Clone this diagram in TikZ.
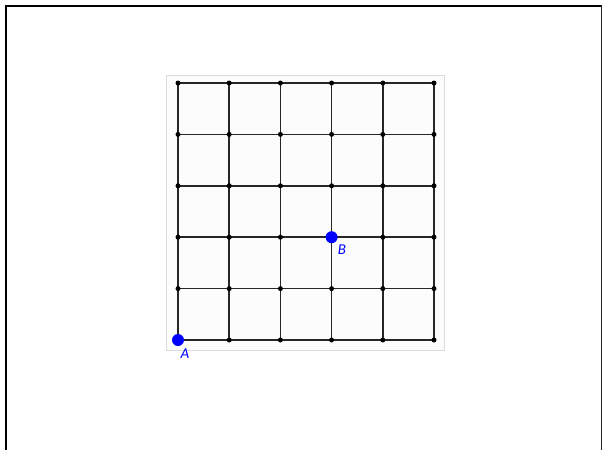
\documentclass[tikz,border=0pt]{standalone}
\usepackage{fontspec}
\setmainfont{Carlito}
\begin{document}
\begin{tikzpicture}[x=1pt,y=-1pt,
  gridline/.style={draw=black!85,line width=1.6pt},
  gdot/.style={circle,fill=black,inner sep=0pt,minimum size=5pt},
  bdot/.style={circle,fill=blue,inner sep=0pt,minimum size=12pt},
  lbl/.style={text=blue,font=\itshape\fontsize{15}{16}\selectfont,inner sep=0pt}]
\useasboundingbox (0,0) rectangle (603,450);
\fill[white] (0,0) rectangle (603,450);
% frame
\draw[black,line width=2.4pt] (6,450) -- (6,6) -- (601.5,6);
\draw[black!85,line width=1.6pt] (601.5,6) -- (601.5,450);
% background panel
\draw[fill=black!1,draw=black!14,line width=0.8pt] (166,75) rectangle (444,350);
% grid
\foreach \i in {0,...,5}{
  \draw[gridline] ({178+51.2*\i},83) -- ({178+51.2*\i},340);
  \draw[gridline] (178,{83+51.4*\i}) -- (434,{83+51.4*\i});
}
\foreach \i in {0,...,5}{
  \foreach \j in {0,...,5}{
    \node[gdot] (d\i\j) at ({178+51.2*\i},{83+51.4*\j}) {};
  }
}
\node[bdot] (A) at (178,340) {};
\node[bdot] (B) at (331.6,237.2) {};
\node[lbl] (la) at (185,354) {A};
\node[lbl] (lb) at (342,250) {B};
\end{tikzpicture}
\end{document}
